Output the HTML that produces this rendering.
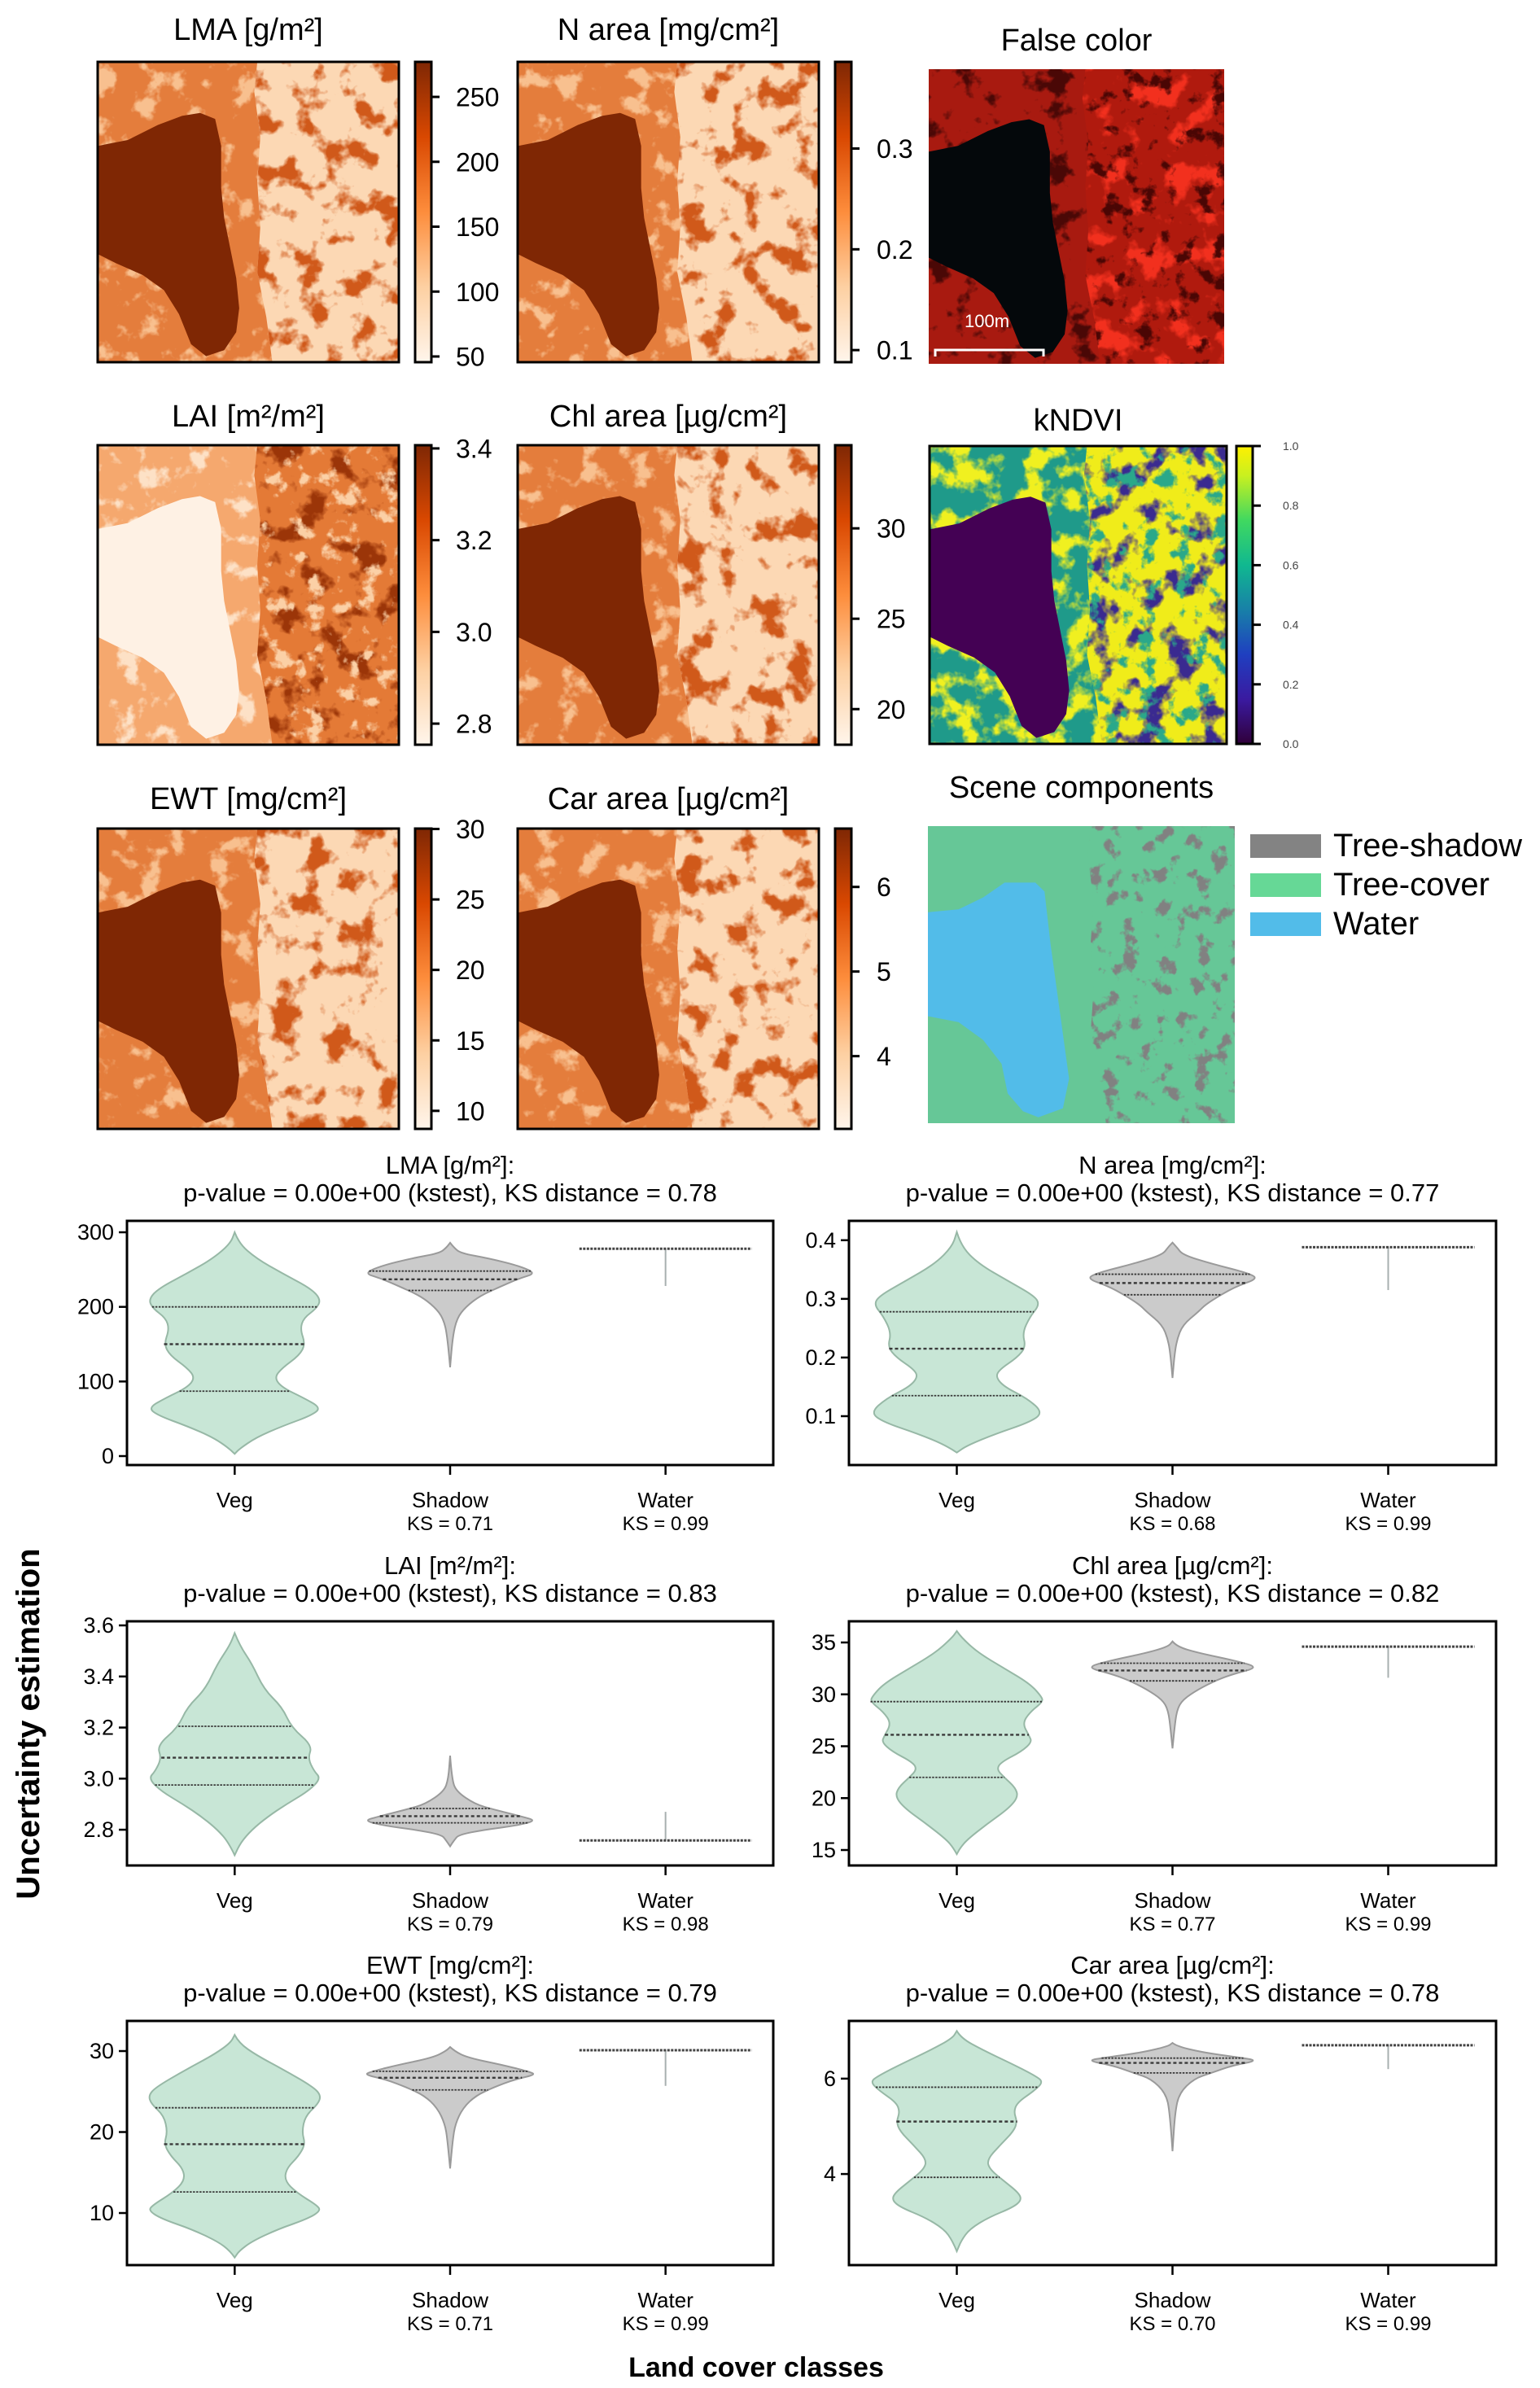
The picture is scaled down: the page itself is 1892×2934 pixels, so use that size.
<!DOCTYPE html>
<html><head><meta charset="utf-8"><style>
html,body{margin:0;padding:0;background:#fff;}
svg{display:block;font-family:"Liberation Sans",sans-serif;}
</style></head><body>
<svg id="fig" xmlns="http://www.w3.org/2000/svg" width="1892" height="2934" viewBox="0 0 1892 2934">
<defs>
<linearGradient id="orGrad" x1="0" y1="1" x2="0" y2="0">
<stop offset="0" stop-color="#fff5eb"/><stop offset="0.25" stop-color="#fdd0a2"/><stop offset="0.5" stop-color="#fd8d3c"/><stop offset="0.75" stop-color="#d94801"/><stop offset="1" stop-color="#7f2704"/></linearGradient>
<linearGradient id="virGrad" x1="0" y1="1" x2="0" y2="0">
<stop offset="0" stop-color="#30003a"/><stop offset="0.15" stop-color="#3a1aa0"/><stop offset="0.3" stop-color="#1f3fc0"/><stop offset="0.45" stop-color="#1880a8"/><stop offset="0.6" stop-color="#10b890"/><stop offset="0.75" stop-color="#40d860"/><stop offset="0.9" stop-color="#c8f020"/><stop offset="1" stop-color="#fff000"/></linearGradient>
</defs>
<g id="maps"></g>
<g id="violins"></g>
<text x="48" y="2118" transform="rotate(-90 48 2118)" text-anchor="middle" font-size="40" font-weight="bold">Uncertainty estimation</text>
<text x="929" y="2920" text-anchor="middle" font-size="34" font-weight="bold">Land cover classes</text>
</svg>
<script>
// ---------- violin data ----------
const classes = ["Veg","Shadow","Water"];
const lmaVeg = [[300,0],[285,0.05],[265,0.25],[245,0.55],[225,0.88],[210,1.0],[198,0.95],[185,0.8],[170,0.76],[150,0.82],[135,0.75],[118,0.55],[105,0.46],[92,0.55],[78,0.8],[65,1.0],[55,0.9],[40,0.55],[25,0.25],[10,0.06],[3,0]];
const lmaShadow = [[286,0],[280,0.04],[272,0.12],[265,0.45],[255,0.8],[245,1.0],[238,0.8],[228,0.6],[215,0.35],[200,0.18],[185,0.08],[160,0.03],[119,0]];
const lmaQVeg = [200,150,87]; const lmaQShadow = [248,237,222];
const lmaWater = [278,228];
const nVeg = [[0.414,0],[0.39,0.05],[0.36,0.25],[0.33,0.6],[0.305,0.9],[0.29,0.96],[0.27,0.85],[0.242,0.76],[0.218,0.8],[0.2,0.7],[0.18,0.5],[0.167,0.45],[0.15,0.55],[0.13,0.82],[0.106,1.0],[0.09,0.85],[0.07,0.45],[0.05,0.12],[0.038,0]];
const nShadow = [[0.396,0],[0.388,0.05],[0.375,0.12],[0.36,0.45],[0.345,0.85],[0.335,1.0],[0.322,0.75],[0.306,0.55],[0.29,0.38],[0.278,0.3],[0.256,0.12],[0.23,0.05],[0.2,0.02],[0.165,0]];
const nQVeg = [0.278,0.215,0.135]; const nQShadow = [0.342,0.327,0.307];
const nWater = [0.388,0.315];
const laiVeg = [[3.57,0],[3.52,0.06],[3.45,0.2],[3.35,0.34],[3.28,0.55],[3.2,0.66],[3.13,0.9],[3.08,0.85],[3.03,0.92],[3.0,1.0],[2.95,0.85],[2.9,0.6],[2.85,0.38],[2.8,0.2],[2.75,0.07],[2.7,0]];
const laiShadow = [[3.09,0],[3.0,0.02],[2.95,0.07],[2.9,0.29],[2.88,0.5],[2.85,0.85],[2.835,1.0],[2.815,0.75],[2.8,0.4],[2.78,0.1],[2.76,0.05],[2.735,0]];
const laiQVeg = [3.205,3.082,2.975]; const laiQShadow = [2.883,2.853,2.827];
const laiWater = [2.758,2.87];
const chlVeg = [[36.1,0],[35.5,0.05],[34,0.25],[32.5,0.55],[31,0.85],[29.8,0.98],[29.3,1.0],[28.3,0.85],[27.2,0.76],[26,0.84],[25.4,0.87],[24.5,0.75],[23.5,0.52],[22.8,0.46],[22,0.55],[21,0.68],[20.1,0.71],[19,0.6],[17.5,0.35],[16,0.12],[15.2,0.04],[14.6,0]];
const chlShadow = [[35.1,0],[34.6,0.05],[34,0.3],[33.2,0.75],[32.6,1.0],[32,0.72],[31.4,0.52],[30.5,0.3],[29.5,0.12],[28.5,0.05],[26.5,0.02],[24.8,0]];
const chlQVeg = [29.3,26.1,22]; const chlQShadow = [33,32.3,31.3];
const chlWater = [34.6,31.6];
const ewtVeg = [[32,0],[31,0.05],[29.5,0.25],[27.5,0.6],[25.5,0.92],[24.5,1.0],[23.5,0.97],[22,0.82],[20,0.78],[18.5,0.82],[17,0.74],[15.5,0.6],[14,0.58],[12.5,0.72],[11,0.95],[10.3,1.0],[9.3,0.85],[8,0.5],[6.5,0.2],[5.3,0.05],[4.5,0]];
const ewtShadow = [[30.5,0],[30,0.05],[29.2,0.2],[28.3,0.6],[27.5,0.9],[27.1,1.0],[26.5,0.75],[25.5,0.5],[24.5,0.3],[23,0.15],[21,0.06],[19,0.03],[15.5,0]];
const ewtQVeg = [23,18.5,12.6]; const ewtQShadow = [27.5,26.7,25.2];
const ewtWater = [30.1,25.7];
const carVeg = [[7.0,0],[6.85,0.05],[6.6,0.3],[6.3,0.65],[6.05,0.92],[5.93,1.0],[5.75,0.9],[5.5,0.7],[5.3,0.66],[5.1,0.7],[4.9,0.66],[4.6,0.5],[4.3,0.35],[4.1,0.38],[3.85,0.55],[3.6,0.72],[3.45,0.75],[3.3,0.65],[3.1,0.38],[2.85,0.15],[2.6,0.05],[2.38,0]];
const carShadow = [[6.75,0],[6.68,0.05],[6.55,0.35],[6.45,0.75],[6.38,1.0],[6.28,0.7],[6.12,0.45],[6.0,0.25],[5.7,0.08],[5.3,0.03],[4.48,0]];
const carQVeg = [5.82,5.1,3.93]; const carQShadow = [6.43,6.33,6.12];
const carWater = [6.7,6.2];
const lmaTicks = [0,100,200,300];
const nTicks = [0.1,0.2,0.3,0.4];
const laiTicks = [2.8,3.0,3.2,3.4,3.6];
const chlTicks = [15,20,25,30,35];
const ewtTicks = [10,20,30];
const carTicks = [4,6];
const ksLabels = [["0.71","0.99"],["0.68","0.99"],["0.79","0.98"],["0.77","0.99"],["0.71","0.99"],["0.70","0.99"]];
const titles1 = ["LMA [g/m²]:","N area [mg/cm²]:","LAI [m²/m²]:","Chl area [µg/cm²]:","EWT [mg/cm²]:","Car area [µg/cm²]:"];
const ksDist = ["0.78","0.77","0.83","0.82","0.79","0.78"];

const NS="http://www.w3.org/2000/svg";
function mk(tag,attrs,parent){const e=document.createElementNS(NS,tag);for(const k in attrs)e.setAttribute(k,attrs[k]);if(parent)parent.appendChild(e);return e;}

const panels = [
 {x0:156,x1:950,y0:1500,y1:1800,ymin:-12,ymax:315.3,veg:lmaVeg,sh:lmaShadow,qv:lmaQVeg,qs:lmaQShadow,w:lmaWater,ticks:lmaTicks,fmt:v=>String(v),name:"lma"},
 {x0:1043,x1:1838,y0:1500,y1:1800,ymin:0.0167,ymax:0.433,veg:nVeg,sh:nShadow,qv:nQVeg,qs:nQShadow,w:nWater,ticks:nTicks,fmt:v=>v.toFixed(1),name:"n-area"},
 {x0:156,x1:950,y0:1992,y1:2292,ymin:2.66,ymax:3.616,veg:laiVeg,sh:laiShadow,qv:laiQVeg,qs:laiQShadow,w:laiWater,ticks:laiTicks,fmt:v=>v.toFixed(1),name:"lai"},
 {x0:1043,x1:1838,y0:1992,y1:2292,ymin:13.51,ymax:37.04,veg:chlVeg,sh:chlShadow,qv:chlQVeg,qs:chlQShadow,w:chlWater,ticks:chlTicks,fmt:v=>String(v),name:"chl-area"},
 {x0:156,x1:950,y0:2483,y1:2783,ymin:3.57,ymax:33.72,veg:ewtVeg,sh:ewtShadow,qv:ewtQVeg,qs:ewtQShadow,w:ewtWater,ticks:ewtTicks,fmt:v=>String(v),name:"ewt"},
 {x0:1043,x1:1838,y0:2483,y1:2783,ymin:2.09,ymax:7.21,veg:carVeg,sh:carShadow,qv:carQVeg,qs:carQShadow,w:carWater,ticks:carTicks,fmt:v=>String(v),name:"car-area"}
];

function interpW(knots,v){
  for(let i=0;i<knots.length-1;i++){const a=knots[i],b=knots[i+1];
    if(v<=a[0]&&v>=b[0]){const t=(a[0]-v)/(a[0]-b[0]||1);return a[1]+(b[1]-a[1])*t;}}
  return 0;
}
function smoothPath(pts){
  let d="M"+pts[0][0].toFixed(1)+","+pts[0][1].toFixed(1);
  for(let i=1;i<pts.length-1;i++){
    const mx=(pts[i][0]+pts[i+1][0])/2, my=(pts[i][1]+pts[i+1][1])/2;
    d+=" Q"+pts[i][0].toFixed(1)+","+pts[i][1].toFixed(1)+" "+mx.toFixed(1)+","+my.toFixed(1);
  }
  const l=pts[pts.length-1]; d+=" L"+l[0].toFixed(1)+","+l[1].toFixed(1);
  return d;
}
const vg=document.getElementById('violins');
panels.forEach((p,pi)=>{
  const g=mk('g',{},vg);
  
  
  const cat=(p.x1-p.x0)/3;
  const xs=i=>p.x0+cat*(i+0.5);
  const ys=v=>p.y1-(v-p.ymin)/(p.ymax-p.ymin)*(p.y1-p.y0);
  const half=0.4*cat;
  const drawViolin=(knots,q,ci,fill,stroke,nm)=>{
    const cx=xs(ci);
    const right=knots.map(k=>[cx+k[1]*half,ys(k[0])]);
    const left=knots.slice().reverse().map(k=>[cx-k[1]*half,ys(k[0])]);
    const d=smoothPath(right)+" "+smoothPath(left).replace(/^M/,"L")+" Z";
    const path=mk('path',{d:d,fill:fill,stroke:stroke,'stroke-width':2},g);
    
    
    q.forEach((qv,qi)=>{
      const w=interpW(knots,qv)*half;
      const ln=mk('line',{x1:cx-w,x2:cx+w,y1:ys(qv),y2:ys(qv),stroke:'#3a3a3a','stroke-width':qi===1?2.4:1.8,'stroke-dasharray':qi===1?'4,3':'2.5,1.5'},g);
      
      
    });
  };
  drawViolin(p.veg,p.qv,0,'#c8e6d6','#97b8a6',p.name+'-veg-violin');
  drawViolin(p.sh,p.qs,1,'#cbcbcb','#9a9a9a',p.name+'-shadow-violin');
  const cx=xs(2);
  const tail=mk('line',{x1:cx,x2:cx,y1:ys(p.w[0]),y2:ys(p.w[1]),stroke:'#a8b0b0','stroke-width':2},g);
  
  
  const wl=mk('line',{x1:cx-half,x2:cx+half,y1:ys(p.w[0]),y2:ys(p.w[0]),stroke:'#444','stroke-width':3,'stroke-dasharray':'3,1.5'},g);
  
  
  const fr=mk('rect',{x:p.x0,y:p.y0,width:p.x1-p.x0,height:p.y1-p.y0,fill:'none',stroke:'#000','stroke-width':3},g);
  
  
  p.ticks.forEach(t=>{
    const y=ys(t);
    const tk=mk('line',{x1:p.x0-10,x2:p.x0,y1:y,y2:y,stroke:'#000','stroke-width':2.5},g);
    
    
    const tl=mk('text',{x:p.x0-16,y:y+9,'text-anchor':'end','font-size':27},g);
    tl.textContent=p.fmt(t);
    
    
  });
  classes.forEach((c,ci)=>{
    const x=xs(ci);
    const tk=mk('line',{x1:x,x2:x,y1:p.y1,y2:p.y1+12,stroke:'#000','stroke-width':2.5},g);
    
    
    const tl=mk('text',{x:x,y:p.y1+52,'text-anchor':'middle','font-size':26},g);
    tl.textContent=c;
    
    
    if(ci>0){
      const ks=mk('text',{x:x,y:p.y1+80,'text-anchor':'middle','font-size':24},g);
      ks.textContent="KS = "+ksLabels[pi][ci-1];
      
      
    }
  });
  const mx=(p.x0+p.x1)/2;
  const t1=mk('text',{x:mx,y:p.y0-58,'text-anchor':'middle','font-size':31},g);
  t1.textContent=titles1[pi];
  
  
  const t2=mk('text',{x:mx,y:p.y0-24,'text-anchor':'middle','font-size':31},g);
  t2.textContent="p-value = 0.00e+00 (kstest), KS distance = "+ksDist[pi];
  
  
});

// ---------- maps ----------
const mg=document.getElementById('maps');
const defs=document.querySelector('defs');
const lakePath="M0,28 L10,26 L20,21 L28,18 L34,17 L39,19 L41,28 L41,42 L42,52 L44,62 L46,72 L47,82 L46,90 L42,96 L36,98 L31,94 L27,84 L22,76 L15,71 L6,67 L0,64 Z";
const rightPath="M53,0 L100,0 L100,100 L58,100 L56,85 L53,70 L54,55 L53,40 L54,25 L52,10 Z";
let fid=0;
function spotFilter(color,freq,seed,gain,bias){
  const id='f'+(fid++);
  const f=mk('filter',{id:id,x:0,y:0,width:1,height:1,filterUnits:'objectBoundingBox','color-interpolation-filters':'sRGB'},defs);
  mk('feTurbulence',{type:'fractalNoise',baseFrequency:freq,numOctaves:4,seed:seed},f);
  const c=color;
  const r=parseInt(c.substr(1,2),16)/255,gg=parseInt(c.substr(3,2),16)/255,b=parseInt(c.substr(5,2),16)/255;
  mk('feColorMatrix',{type:'matrix',values:`0 0 0 0 ${r} 0 0 0 0 ${gg} 0 0 0 0 ${b} ${gain} 0 0 0 ${bias}`},f);
  return id;
}
function drawMap(cfg){
  const g=mk('g',{},mg);
  
  
  const clipId='c'+(fid++);
  const cp=mk('clipPath',{id:clipId},defs);
  mk('rect',{x:cfg.x,y:cfg.y,width:cfg.w,height:cfg.h},cp);
  const inner=mk('g',{'clip-path':`url(#${clipId})`},g);
  mk('rect',{x:cfg.x,y:cfg.y,width:cfg.w,height:cfg.h,fill:cfg.left},inner);
  if(cfg.leftSpot){const id=spotFilter(cfg.leftSpot,0.035,cfg.seed+3,cfg.lg||7,cfg.lb||-3.9);mk('rect',{x:cfg.x,y:cfg.y,width:cfg.w,height:cfg.h,filter:`url(#${id})`},inner);}
  const sub=mk('svg',{x:cfg.x,y:cfg.y,width:cfg.w,height:cfg.h,viewBox:'0 0 100 100',preserveAspectRatio:'none'},inner);
  const rclip='c'+(fid++);
  const rcp=mk('clipPath',{id:rclip},defs);
  mk('path',{d:rightPath,transform:`translate(${cfg.x},${cfg.y}) scale(${cfg.w/100},${cfg.h/100})`},rcp);
  const rg=mk('g',{'clip-path':`url(#${rclip})`},inner);
  mk('rect',{x:cfg.x,y:cfg.y,width:cfg.w,height:cfg.h,fill:cfg.right},rg);
  if(cfg.spot){const id=spotFilter(cfg.spot,cfg.freq||0.03,cfg.seed,cfg.sg||7,cfg.sb||-3.7);mk('rect',{x:cfg.x,y:cfg.y,width:cfg.w,height:cfg.h,filter:`url(#${id})`},rg);}
  if(cfg.spot2){const id=spotFilter(cfg.spot2,0.045,cfg.seed+7,7,-4.0);mk('rect',{x:cfg.x,y:cfg.y,width:cfg.w,height:cfg.h,filter:`url(#${id})`},rg);}
  mk('path',{d:cfg.lakePath||lakePath,fill:cfg.lake},sub);
  if(cfg.border){
    const b=mk('rect',{x:cfg.x,y:cfg.y,width:cfg.w,height:cfg.h,fill:'none',stroke:'#000','stroke-width':3},g);
    
    
  }
  const t=mk('text',{x:cfg.x+cfg.w/2,y:cfg.ty,'text-anchor':'middle','font-size':38},g);
  t.textContent=cfg.title;
  
  
  return g;
}
function colorbar(x,y,h,vmin,vmax,ticks,fmt,grad,fs,lx,name){
  const g=mk('g',{},mg);
  
  
  mk('rect',{x:x,y:y,width:20,height:h,fill:`url(#${grad})`,stroke:'#000','stroke-width':3},g);
  ticks.forEach(t=>{
    const yy=y+h-(t-vmin)/(vmax-vmin)*h;
    mk('line',{x1:x+20,x2:x+30,y1:yy,y2:yy,stroke:'#000','stroke-width':3},g);
    const tl=mk('text',{x:lx,y:yy+fs*0.36,'font-size':fs,fill:fs<20?'#444':'#000'},g);
    tl.textContent=fmt(t);
    
    
  });
}
const rows=[[76,445,49],[547,915,524],[1018,1387,994]];
const orangeCfg=(name,title,x,r,s)=>({name:name,title:title,x:x,y:rows[r][0],w:370,h:rows[r][1]-rows[r][0],ty:rows[r][2],left:'#e47d3c',leftSpot:'#f8c08f',right:'#fcd8b4',spot:'#d0591a',seed:s,lake:'#7f2704',border:true});
drawMap(orangeCfg('lma-map','LMA [g/m²]',120,0,1));
drawMap(orangeCfg('n-area-map','N area [mg/cm²]',636,0,2));
drawMap(orangeCfg('chl-area-map','Chl area [µg/cm²]',636,1,3));
drawMap(orangeCfg('ewt-map','EWT [mg/cm²]',120,2,4));
drawMap(orangeCfg('car-area-map','Car area [µg/cm²]',636,2,5));
drawMap({name:'lai-map',title:'LAI [m²/m²]',x:120,y:rows[1][0],w:370,h:rows[1][1]-rows[1][0],ty:rows[1][2],left:'#f5a86e',leftSpot:'#fde1c6',right:'#e47a36',spot:'#9b3508',spot2:'#fbd0a6',seed:6,lake:'#fef1e4',border:true});
drawMap({name:'false-color-map',title:'False color',x:1141,y:85,w:363,h:362,ty:62,left:'#a81a10',leftSpot:'#4a0806',right:'#b01a0e',spot:'#f2301e',spot2:'#4a0604',seed:8,lake:'#04080b',border:false});
drawMap({name:'kndvi-map',title:'kNDVI',x:1142,y:548,w:365,h:366,ty:529,left:'#1f9a8a',leftSpot:'#f0f020',lg:6,lb:-2.8,right:'#f0ec1a',spot:'#3a2a90',spot2:'#2aa88a',seed:9,lake:'#440154',border:true});
drawMap({name:'scene-components-map',title:'Scene components',x:1140,y:1015,w:377,h:365,ty:980,left:'#66c797',right:'#66c797',spot:'#818181',freq:0.045,sg:9,sb:-5.2,seed:10,lake:'#52bce9',border:false,
  lakePath:"M0,29 L10,28 L18,24 L25,19 L35,19 L38,22 L40,40 L42,55 L44,70 L46,85 L44,95 L36,98 L31,96 L26,90 L24,80 L18,72 L10,66 L0,64 Z"});
const sb=mk('g',{},mg);


mk('path',{d:'M1149,438 L1149,430 L1282,430 L1282,438',fill:'none',stroke:'#fff','stroke-width':3},sb);
const sbt=mk('text',{x:1185,y:402,'font-size':22,fill:'#fff'},sb);
sbt.textContent='100m';
colorbar(510,76,369,45.6,277,[50,100,150,200,250],v=>String(v),'orGrad',32,560,'lma-colorbar');
colorbar(1026,76,369,0.088,0.386,[0.1,0.2,0.3],v=>v.toFixed(1),'orGrad',32,1077,'n-area-colorbar');
colorbar(510,547,368,2.754,3.407,[2.8,3.0,3.2,3.4],v=>v.toFixed(1),'orGrad',32,560,'lai-colorbar');
colorbar(1026,547,368,18.03,34.6,[20,25,30],v=>String(v),'orGrad',32,1077,'chl-area-colorbar');
colorbar(510,1018,369,8.72,30.03,[10,15,20,25,30],v=>String(v),'orGrad',32,560,'ewt-colorbar');
colorbar(1026,1018,369,3.14,6.69,[4,5,6],v=>String(v),'orGrad',32,1077,'car-area-colorbar');
colorbar(1519,548,366,0,1,[0,0.2,0.4,0.6,0.8,1.0],v=>v.toFixed(1),'virGrad',14,1576,'kndvi-colorbar');
const legItems=[['Tree-shadow','#838383'],['Tree-cover','#66d896'],['Water','#52bce9']];
legItems.forEach((it,i)=>{
  const g=mk('g',{},mg);
  
  
  const y=1025+i*48;
  mk('rect',{x:1536,y:y,width:87,height:29,fill:it[1]},g);
  const t=mk('text',{x:1638,y:y+27,'font-size':40},g);
  t.textContent=it[0];
});
</script>
</body></html>
